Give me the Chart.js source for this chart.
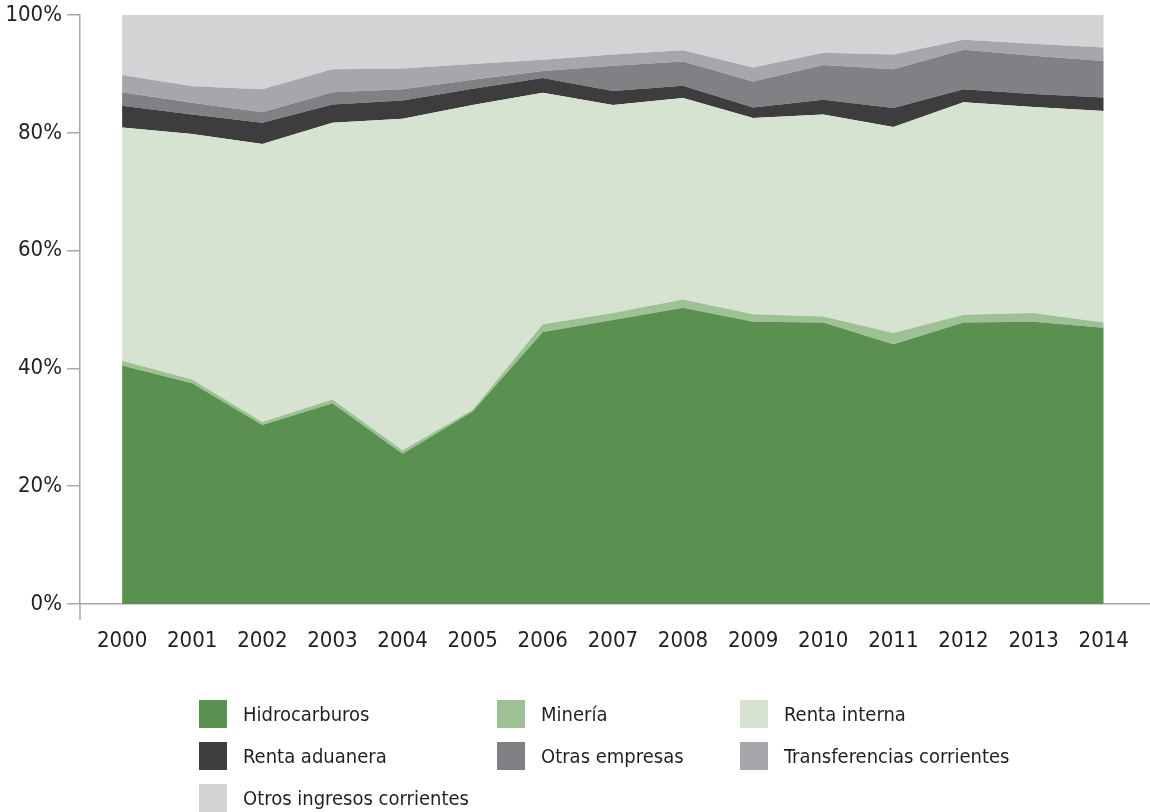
<!DOCTYPE html>
<html>
<head>
<meta charset="utf-8">
<script src="https://cdn.jsdelivr.net/npm/chart.js@4.4.0/dist/chart.umd.min.js"></script>
<style>
  body { margin: 0; background: #fff; }
  #wrap { position: relative; width: 1150px; height: 812px; }
  #legend { position: absolute; left: 0; top: 0; width: 1150px; height: 812px; pointer-events: none;
    font-family: 'DejaVu Sans Condensed', 'Liberation Sans Narrow', sans-serif; font-size: 20px; color: #231f20; }
  .item { position: absolute; display: flex; align-items: center; height: 28px; }
  .box { width: 28px; height: 28px; margin-right: 16px; }
</style>
</head>
<body>
<div id="wrap">
  <canvas id="chart" width="1150" height="812"></canvas>
  <div id="legend"></div>
</div>
<script>
const years = [2000, 2001, 2002, 2003, 2004, 2005, 2006, 2007, 2008, 2009, 2010, 2011, 2012, 2013, 2014];
const yTicks = [0, 20, 40, 60, 80, 100];

const hidrocarburos = [40.5, 37.5, 30.4, 34.1, 25.5, 32.7, 46.2, 48.2, 50.3, 47.9, 47.8, 44.1, 47.8, 47.9, 46.9];
const mineria = [0.8, 0.6, 0.5, 0.6, 0.6, 0.3, 1.3, 1.2, 1.4, 1.3, 1.0, 1.9, 1.3, 1.5, 0.9];
const rentaInterna = [39.6, 41.7, 47.2, 47.0, 56.3, 51.7, 39.3, 35.3, 34.2, 33.3, 34.3, 35.0, 36.1, 35.0, 35.9];
const rentaAduanera = [3.7, 3.3, 3.6, 3.1, 3.1, 2.8, 2.5, 2.4, 2.1, 1.8, 2.5, 3.2, 2.2, 2.2, 2.3];
const otrasEmpresas = [2.3, 2.0, 1.8, 2.1, 1.9, 1.5, 1.2, 4.3, 4.1, 4.4, 5.9, 6.6, 6.7, 6.5, 6.2];
const transferencias = [2.9, 2.8, 3.9, 3.9, 3.5, 2.7, 1.9, 1.9, 1.9, 2.4, 2.1, 2.5, 1.7, 2.0, 2.3];
const otrosIngresos = [10.2, 12.1, 12.6, 9.2, 9.1, 8.4, 7.6, 6.7, 6.0, 8.9, 6.4, 6.7, 4.2, 4.9, 5.5];

const series = [
  { label: 'Hidrocarburos', data: hidrocarburos, color: '#5a9150' },
  { label: 'Minería', data: mineria, color: '#9dc094' },
  { label: 'Renta interna', data: rentaInterna, color: '#d7e3d1' },
  { label: 'Renta aduanera', data: rentaAduanera, color: '#3d3d3d' },
  { label: 'Otras empresas', data: otrasEmpresas, color: '#808184' },
  { label: 'Transferencias corrientes', data: transferencias, color: '#a6a7aa' },
  { label: 'Otros ingresos corrientes', data: otrosIngresos, color: '#d2d3d5' },
];

const FONT = "'DejaVu Sans Condensed', 'Liberation Sans Narrow', sans-serif";
const AXIS = '#a7a8aa';

// little bit of the y axis hanging below the x axis
const axisStub = {
  id: 'axisStub',
  afterDraw( chart ) {
    const { ctx, chartArea } = chart;
    ctx.save();
    ctx.strokeStyle = AXIS;
    ctx.lineWidth = 1.5;
    ctx.beginPath();
    ctx.moveTo( chartArea.left, chartArea.bottom );
    ctx.lineTo( chartArea.left, chartArea.bottom + 16 );
    ctx.stroke();
    ctx.restore();
  },
};

new Chart( document.getElementById( 'chart' ), {
  type: 'line',
  data: {
    datasets: series.map( ( s, i ) => ( {
      label: s.label,
      data: years.map( ( y, j ) => ( { x: y, y: s.data[j] } ) ),
      backgroundColor: s.color,
      borderWidth: 0,
      pointRadius: 0,
      tension: 0,
      fill: i === 0 ? 'origin' : '-1',
    } ) ),
  },
  options: {
    responsive: false,
    animation: false,
    layout: { padding: { top: 15, right: 0, left: 0, bottom: 0 } },
    scales: {
      x: {
        type: 'linear',
        min: 1999.4,
        max: 2014.66,
        afterBuildTicks: ( scale ) => { scale.ticks = years.map( v => ( { value: v } ) ); },
        afterFit: ( scale ) => { scale.height = 208; },
        grid: { display: false },
        border: { display: true, color: AXIS, width: 1.5 },
        ticks: {
          autoSkip: false,
          maxRotation: 0,
          padding: 16,
          color: '#231f20',
          font: { family: FONT, size: 22 },
          callback: ( v ) => String( v ),
        },
      },
      y: {
        stacked: true,
        min: 0,
        max: 100,
        afterBuildTicks: ( scale ) => { scale.ticks = yTicks.map( v => ( { value: v } ) ); },
        afterFit: ( scale ) => {
          scale.width = 80;
          scale.paddingTop = 0;
          scale.paddingBottom = 0;
        },
        grid: { drawOnChartArea: false, drawTicks: true, tickLength: 13, color: AXIS, lineWidth: 1.5 },
        border: { display: true, color: AXIS, width: 1.5 },
        ticks: {
          padding: 5,
          color: '#231f20',
          font: { family: FONT, size: 22 },
          callback: ( v ) => v + '%',
        },
      },
    },
    plugins: {
      legend: { display: false },
      tooltip: { enabled: false },
    },
  },
  plugins: [axisStub],
} );

// legend in three columns under the chart
const legendCols = [199, 497, 740];
const legendRows = [700, 742, 784];
const legend = document.getElementById( 'legend' );
series.forEach( ( s, i ) => {
  const item = document.createElement( 'div' );
  item.className = 'item';
  item.style.left = legendCols[i % 3] + 'px';
  item.style.top = legendRows[Math.floor( i / 3 )] + 'px';
  item.innerHTML = '<span class="box" style="background:' + s.color + '"></span><span>' + s.label + '</span>';
  legend.appendChild( item );
} );
</script>
</body>
</html>
